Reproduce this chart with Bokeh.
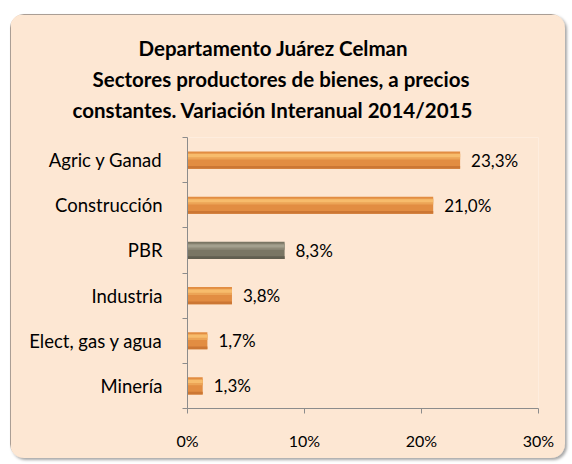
from bokeh.plotting import figure
from bokeh.models import Range1d, FixedTicker, PrintfTickFormatter, Title, ColumnDataSource
from bokeh.core.properties import value
from bokeh.embed import file_html
from bokeh.resources import INLINE

categories = ["Agric y Ganad", "Construcción", "PBR", "Industria", "Elect, gas y agua", "Minería"]
values = [23.3, 21.0, 8.3, 3.8, 1.7, 1.3]
x_ticks = [0, 10, 20, 30]
title_lines = ["Departamento Juárez Celman",
               "Sectores productores de bienes, a precios",
               "constantes. Variación Interanual 2014/2015"]
title_offsets = [-49, -95, -115]

FONT = "Lato"
BG = "#FDE7D3"
AX = "#8C8C8C"

n = len(categories)
ypos = [i + 0.5 for i in range(n)]
is_total = [c == "PBR" for c in categories]
base_col = ["#7A7664" if t else "#E28D42" for t in is_total]
light_col = ["#A3A08E" if t else "#F7BC6C" for t in is_total]
mid_col = ["#8E8A78" if t else "#ECA456" for t in is_total]
dark_col = ["#625F50" if t else "#CC7734" for t in is_total]
labels = [f"{v:.1f}".replace(".", ",") + "%" for v in values]

H = 0.38
src = ColumnDataSource(dict(
    y=ypos, v=values, base=base_col, light=light_col, mid=mid_col, dark=dark_col, lab=labels,
    y_mid=[y - H * 0.22 for y in ypos],
    y_light=[y - H * 0.26 for y in ypos],
    y_dark=[y + H * 0.42 for y in ypos],
))

p = figure(width=555, height=444, output_backend="svg", toolbar_location=None,
           x_range=Range1d(0, 30), y_range=Range1d(n, 0),
           min_border_left=177, min_border_right=27, min_border_bottom=50, min_border_top=123)
p.styles = {"border-radius": "14px", "overflow": "hidden",
            "outline": "1px solid #8E8680", "outline-offset": "-1px",
            "box-shadow": "2px 2px 3px rgba(0,0,0,0.35)",
            "margin-left": "10px", "margin-top": "14px"}
p.background_fill_color = BG
p.border_fill_color = BG
p.outline_line_color = None
p.xgrid.visible = False
p.ygrid.visible = False

p.add_layout(Title(text=" ", text_font_size="10px", standoff=0), "above")
for line, off in reversed(list(zip(title_lines, title_offsets))):
    p.add_layout(Title(text=line, align="left", offset=off, text_font=FONT, text_font_size="20.5px",
                       text_font_style="bold", text_color="#000000", standoff=5), "above")

p.hbar(y="y", right="v", left=0, height=H, fill_color="base", line_color=None, source=src)
p.hbar(y="y_mid", right="v", left=0, height=H * 0.36, fill_color="mid", line_color=None, source=src)
p.hbar(y="y_light", right="v", left=0, height=H * 0.18, fill_color="light", line_color=None, source=src)
p.hbar(y="y_dark", right="v", left=0, height=H * 0.16, fill_color="dark", line_color=None, source=src)

p.text(x="v", y="y", text="lab", source=src, x_offset=11, text_align="left", text_baseline="middle",
       text_font=value(FONT), text_font_size="17px", text_color="#000000")

xa = p.xaxis[0]
xa.ticker = FixedTicker(ticks=x_ticks)
xa.formatter = PrintfTickFormatter(format="%d%%")
xa.axis_line_color = AX
xa.major_tick_line_color = AX
xa.major_tick_out = 5
xa.major_tick_in = 0
xa.minor_tick_line_color = None
xa.major_label_standoff = 17
xa.major_label_text_font = FONT
xa.major_label_text_font_size = "16px"
xa.major_label_text_color = "#000000"

ya = p.yaxis[0]
ya.ticker = FixedTicker(ticks=ypos, minor_ticks=list(range(n + 1)))
ya.major_label_overrides = {y: c for y, c in zip(ypos, categories)}
ya.axis_line_color = AX
ya.major_tick_line_color = None
ya.major_tick_out = 0
ya.major_tick_in = 0
ya.minor_tick_line_color = AX
ya.minor_tick_out = 5
ya.minor_tick_in = 0
ya.major_label_standoff = 20
ya.major_label_text_font = FONT
ya.major_label_text_font_size = "18.5px"
ya.major_label_text_color = "#000000"

open("out.html", "w").write(file_html(p, INLINE))
